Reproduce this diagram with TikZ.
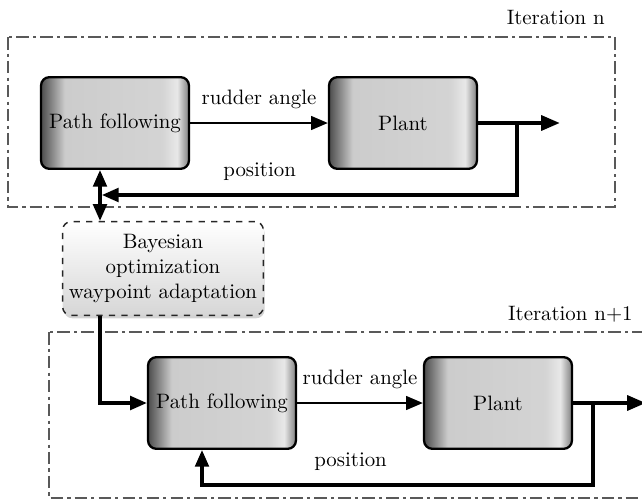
\documentclass[tikz,border=0pt]{standalone}
\usetikzlibrary{arrows.meta,shadows}
\pgfdeclarehorizontalshading{blockshade}{100bp}{color(0bp)=(black!70); color(25bp)=(black!70); color(33bp)=(black!20); color(66bp)=(black!17); color(71bp)=(black!9); color(75bp)=(black!50); color(100bp)=(black!50)}
\tikzset{
  block/.style={draw=black, line width=1.1pt, rounded corners=4pt, shading=blockshade, minimum width=71pt, minimum height=44pt, inner sep=2pt},
  adapt/.style={draw=black!85, dashed, line width=0.7pt, rounded corners=4pt, top color=white, bottom color=black!16, drop shadow={shadow xshift=0.6pt, shadow yshift=-1.4pt, opacity=0.35}, minimum width=93pt, minimum height=45pt, align=center, inner sep=3pt},
  iterbox/.style={draw=black!65, line width=1pt, dash pattern=on 6pt off 2pt on 1.5pt off 2pt},
  sig/.style={line width=1.1pt},
  outsig/.style={line width=2pt, -{Triangle[length=9pt,width=7pt]}},
  fb/.style={line width=1.6pt}
}

\begin{document}
\begin{tikzpicture}[x=0.48pt,y=-0.48pt,>={Triangle[length=8pt,width=6.5pt]}]
\useasboundingbox (0,0) rectangle (642,502);
\draw[iterbox] (8,37) rectangle (615,207);
\draw[iterbox] (49,332) rectangle (660,498);
\node[anchor=east] (it1) at (612,17) {Iteration n};
\node[anchor=east] (it2) at (640,314) {Iteration n+1};
\node[block] (pf1) at (115,123) {Path following};
\node[block] (plant1) at (403,123) {Plant};
\node[adapt] (bo) at (163,268.5) {Bayesian\\optimization\\waypoint adaptation};
\node[block] (pf2) at (222,403) {Path following};
\node[block] (plant2) at (498,403) {Plant};
\coordinate (t1) at (517,123);
\coordinate (o1) at (560,123);
\coordinate (ax) at (100,195);
\coordinate (t2) at (593,403);
\coordinate (o2) at (646,403);
\coordinate (r2) at (202,485);
\draw[sig,->] (pf1) -- node[above=3pt] {rudder angle} (plant1);
\draw[outsig] (plant1) -- (o1);
\draw[fb,->] (t1) |- node[pos=0.81,above=3pt] {position} ([xshift=0.9pt]ax);
\draw[fb,<->] (pf1.south -| ax) -- (bo.north -| ax);
\draw[fb,->] (bo.south -| ax) |- (pf2);
\draw[sig,->] (pf2) -- node[above=3pt] {rudder angle} (plant2);
\draw[outsig] (plant2) -- (o2);
\draw[fb,->] (t2) |- node[pos=0.81,above=3pt] {position} (r2) -- (r2 |- pf2.south);
\end{tikzpicture}
\end{document}
